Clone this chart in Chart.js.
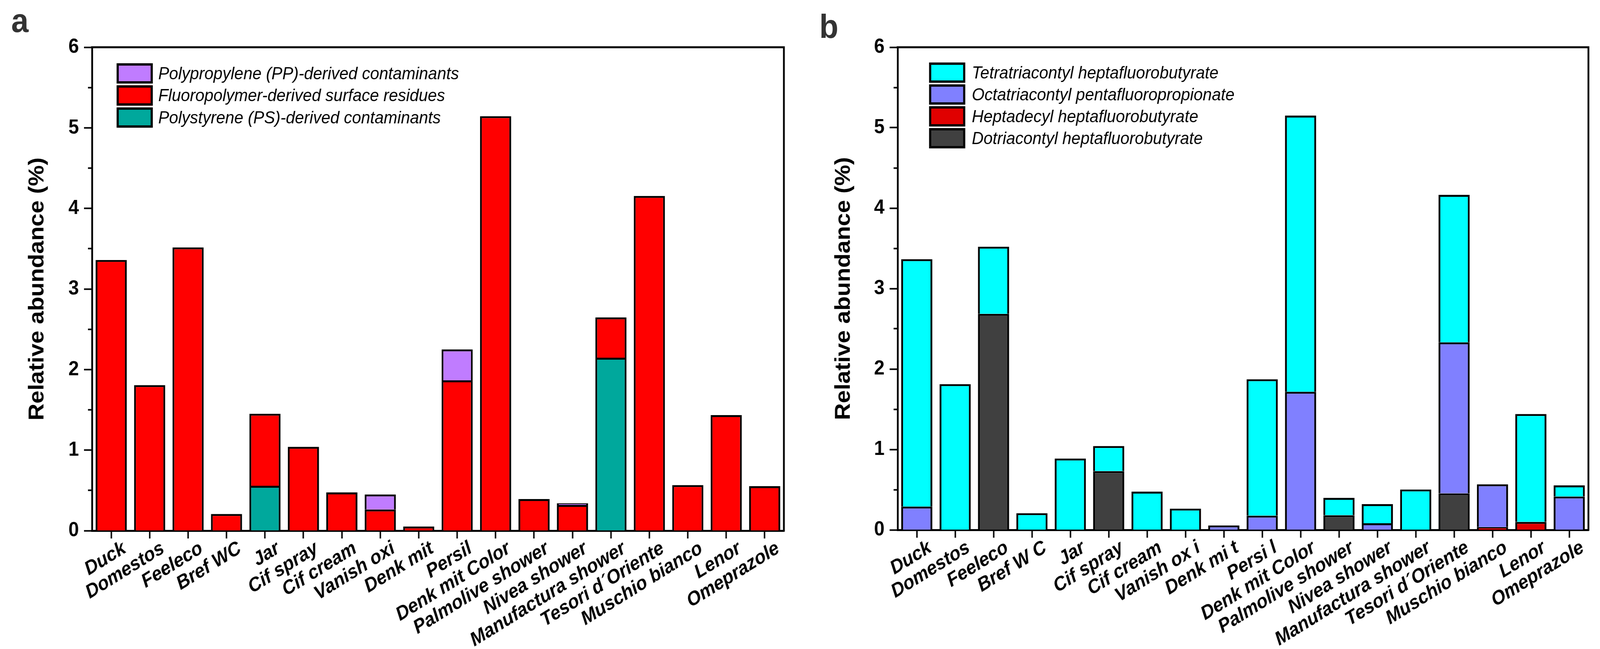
<!DOCTYPE html>
<html>
<head>
<meta charset="utf-8">
<script src="https://cdn.jsdelivr.net/npm/chart.js@4.4.1/dist/chart.umd.min.js"></script>
<style>
  html, body { margin: 0; padding: 0; background: #fff; overflow: hidden; }
  #page { position: absolute; left: 0; top: 0; width: 4419px; height: 1662px; overflow: hidden; background: #fff; transform-origin: 0 0; }
  .panel { position: absolute; top: 0; height: 1662px; }
  .panel canvas { display: block; }
  .letter { position: absolute; font-family: "Liberation Sans", Arial, sans-serif; font-weight: bold;
            font-size: 86px; line-height: 86px; color: #333; }
</style>
</head>
<body>
<div id="page">
  <div class="panel" style="left:0; width:2200px;"><canvas id="chartA" width="2200" height="1662"></canvas></div>
  <div class="panel" style="left:2200px; width:2219px;"><canvas id="chartB" width="2219" height="1662"></canvas></div>
  <div class="letter" style="left:31px; top:9px;">a</div>
  <div class="letter" style="left:2263px; top:24px;">b</div>
</div>
<script>
// ---------- DATA ----------
const categoriesA = ['Duck','Domestos','Feeleco','Bref WC','Jar','Cif spray','Cif cream','Vanish oxi','Denk mit','Persil','Denk mit Color','Palmolive shower','Nivea shower','Manufactura shower','Tesori d\u00B4Oriente','Muschio bianco','Lenor','Omeprazole'];
const categoriesB = ['Duck','Domestos','Feeleco','Bref W C','Jar','Cif spray','Cif cream','Vanish ox i','Denk mi t','Persi l','Denk mit Color','Palmolive shower','Nivea shower','Manufactura shower','Tesori d\u00B4Oriente','Muschio bianco','Lenor','Omeprazole'];

// Panel a (stack order bottom -> top: PS, Fluoropolymer, PP)
const psValues    = [0, 0, 0, 0, 0.557, 0, 0, 0, 0, 0, 0, 0, 0, 2.147, 0, 0, 0, 0];
const fluoroValues= [3.36, 1.806, 3.516, 0.207, 0.894, 1.041, 0.475, 0.263, 0.052, 1.866, 5.145, 0.393, 0.32, 0.501, 4.155, 0.566, 1.434, 0.553];
const ppValues    = [0, 0, 0, 0, 0, 0, 0, 0.186, 0, 0.384, 0, 0, 0.02, 0, 0, 0, 0, 0];

// Panel b (stack order bottom -> top: Dotriacontyl, Heptadecyl, Octatriacontyl, Tetratriacontyl)
const dotriValues = [0, 0, 2.686, 0, 0, 0.731, 0, 0, 0, 0, 0, 0.182, 0, 0, 0.454, 0, 0, 0];
const heptaValues = [0, 0, 0, 0, 0, 0, 0, 0, 0, 0, 0, 0, 0, 0, 0, 0.035, 0.10, 0];
const octaValues  = [0.29, 0, 0, 0, 0, 0, 0, 0, 0.056, 0.177, 1.717, 0, 0.082, 0, 1.877, 0.532, 0, 0.415];
const tetraValues = [3.075, 1.812, 0.835, 0.208, 0.887, 0.311, 0.476, 0.264, 0, 1.696, 3.434, 0.216, 0.238, 0.502, 1.834, 0, 1.34, 0.139];

const yTickValues = [0, 1, 2, 3, 4, 5, 6];
// ---------- END DATA ----------

// The browser viewport may be narrower than the 4419 px design width: squeeze to fit.
(function fitPage() {
  const sx = Math.min(1, (window.innerWidth || 4419) / 4419);
  const sy = Math.min(1, (window.innerHeight || 1662) / 1662);
  document.getElementById('page').style.transform = 'scale(' + sx + ',' + sy + ')';
})();

const FONT = '"Liberation Sans", Arial, sans-serif';

const frameLegendPlugin = {
  id: 'frameLegend',
  afterDraw(chart, args, opts) {
    const ctx = chart.ctx;
    const a = chart.chartArea;
    ctx.save();
    ctx.strokeStyle = '#000';
    ctx.lineWidth = 5;
    ctx.beginPath();
    ctx.moveTo(a.left - 2.5, a.top);
    ctx.lineTo(a.right, a.top);
    ctx.lineTo(a.right, a.bottom + 2.5);
    ctx.stroke();
    const ds = chart.data.datasets.slice().reverse();
    ctx.font = 'italic 45px ' + FONT;
    ctx.textBaseline = 'middle';
    ctx.textAlign = 'left';
    ds.forEach((d, i) => {
      const x = opts.x, y = opts.y + i * opts.rowH;
      ctx.fillStyle = d.backgroundColor;
      ctx.fillRect(x, y, opts.boxW, opts.boxH);
      ctx.lineWidth = 6;
      ctx.strokeStyle = '#000';
      ctx.strokeRect(x + 3, y + 3, opts.boxW - 6, opts.boxH - 6);
      ctx.fillStyle = '#000';
      ctx.fillText(d.label, opts.textX, y + opts.boxH / 2 + 2);
    });
    ctx.restore();
  }
};

function makeOptions(yAxisWidth, xAxisHeight, padRight, titlePad, legend) {
  return {
    responsive: false,
    maintainAspectRatio: false,
    devicePixelRatio: 1,
    animation: false,
    layout: { padding: { left: 0, top: 121, right: padRight, bottom: 0 } },
    plugins: {
      legend: { display: false },
      tooltip: { enabled: false },
      frameLegend: legend
    },
    datasets: { bar: { categoryPercentage: 1.0, barPercentage: 0.81, borderWidth: 5, borderColor: '#000' } },
    scales: {
      x: {
        stacked: true,
        offset: true,
        grid: { display: true, drawOnChartArea: false, offset: false, tickLength: 20, tickWidth: 4, tickColor: '#000' },
        border: { display: true, color: '#000', width: 5 },
        ticks: {
          autoSkip: false, minRotation: 30, maxRotation: 30, labelOffset: 37, padding: -4,
          color: '#000', font: { family: FONT, size: 50, weight: 'bold', style: 'italic' }
        },
        afterFit: s => { s.height = xAxisHeight; }
      },
      y: {
        stacked: true,
        min: 0, max: 6,
        afterBuildTicks: s => {
          const t = [];
          yTickValues.forEach((v, i) => { t.push({ value: v }); if (i < yTickValues.length - 1) t.push({ value: v + 0.5 }); });
          s.ticks = t;
        },
        grid: {
          display: true, drawOnChartArea: false, tickLength: 22, tickWidth: 4, tickColor: '#000',
          tickBorderDash: c => (c.tick && c.tick.value % 1 !== 0) ? [11, 11] : [],
          tickBorderDashOffset: c => (c.tick && c.tick.value % 1 !== 0) ? 11 : 0
        },
        border: { display: true, color: '#000', width: 5 },
        ticks: {
          padding: 14, color: '#000',
          font: { family: FONT, size: 52, weight: 'bold' },
          callback: v => (v % 1 === 0 ? String(v) : '')
        },
        title: {
          display: true, text: 'Relative abundance (%)', color: '#000',
          font: { family: FONT, size: 60, weight: 'bold' },
          padding: { top: titlePad, bottom: 0 }
        },
        afterFit: s => { s.width = yAxisWidth; }
      }
    }
  };
}

new Chart(document.getElementById('chartA'), {
  type: 'bar',
  data: {
    labels: categoriesA,
    datasets: [
      { label: 'Polystyrene (PS)-derived contaminants', data: psValues, backgroundColor: '#00A89C' },
      { label: 'Fluoropolymer-derived surface residues', data: fluoroValues, backgroundColor: '#FF0000' },
      { label: 'Polypropylene (PP)-derived contaminants', data: ppValues, backgroundColor: '#C07CFF' }
    ]
  },
  options: makeOptions(254, 303, 35, 67, { x: 322, y: 162, boxW: 100, boxH: 52, rowH: 56.5, textX: 437 }),
  plugins: [frameLegendPlugin]
});

new Chart(document.getElementById('chartB'), {
  type: 'bar',
  data: {
    labels: categoriesB,
    datasets: [
      { label: 'Dotriacontyl heptafluorobutyrate', data: dotriValues, backgroundColor: '#404040' },
      { label: 'Heptadecyl heptafluorobutyrate', data: heptaValues, backgroundColor: '#E00000' },
      { label: 'Octatriacontyl pentafluoropropionate', data: octaValues, backgroundColor: '#8080FF' },
      { label: 'Tetratriacontyl heptafluorobutyrate', data: tetraValues, backgroundColor: '#00FFFF' }
    ]
  },
  options: makeOptions(279, 305, 2219 - 2187, 94, { x: 366, y: 160, boxW: 100, boxH: 52, rowH: 56, textX: 484 }),
  plugins: [frameLegendPlugin]
});
</script>
</body>
</html>
